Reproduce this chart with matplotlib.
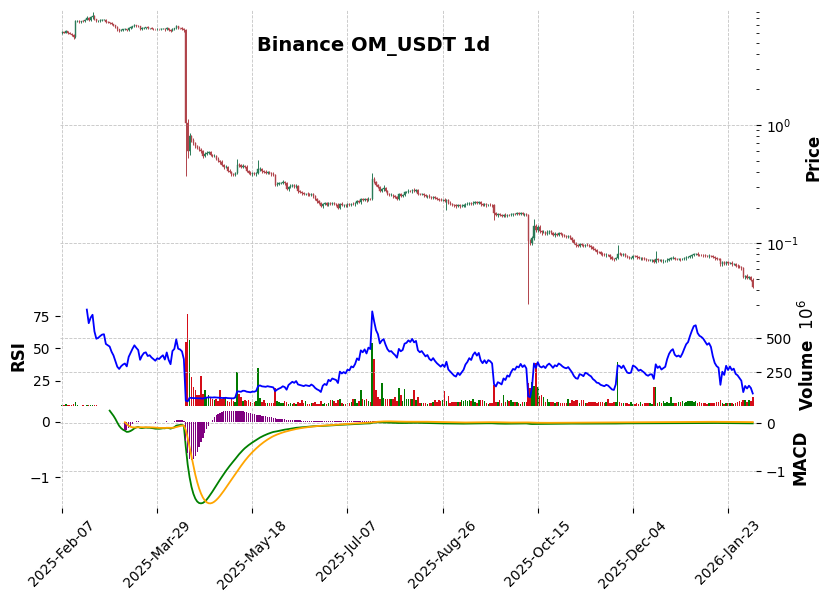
import numpy as np
import pandas as pd
import matplotlib
matplotlib.use("Agg")
import matplotlib.pyplot as plt

# daily closes (OM_USDT, Binance, 1d)
close_feb_apr = [
    6.11, 6.05, 6.20, 6.02, 5.95, 5.82, 5.55, 7.55, 7.62, 7.48,
    7.60, 7.58, 7.80, 8.10, 7.75, 8.15, 8.40, 7.85, 7.55, 7.60,
    7.70, 7.78, 7.80, 7.45, 7.40, 7.35, 7.15, 7.00, 6.75, 6.45,
    6.32, 6.40, 6.45, 6.48, 6.35, 6.62, 6.75, 6.88, 7.00, 6.92,
    6.85, 6.50, 6.62, 6.70, 6.72, 6.60, 6.62, 6.55, 6.50, 6.45,
    6.50, 6.48, 6.52, 6.55, 6.45, 6.58, 6.40, 6.28, 6.55, 6.60,
    6.85, 6.62, 6.60, 6.55, 6.33,
]
close_apr_jul = [
    1.05, 0.60, 0.80, 0.74, 0.70, 0.66, 0.64, 0.62, 0.60, 0.55,
    0.57, 0.58, 0.59, 0.56, 0.545, 0.55, 0.52, 0.50, 0.485, 0.455,
    0.44, 0.445, 0.41, 0.40, 0.385, 0.38, 0.39, 0.46, 0.455, 0.44,
    0.45, 0.445, 0.41, 0.395, 0.385, 0.39, 0.385, 0.39, 0.42, 0.425,
    0.405, 0.40, 0.395, 0.398, 0.39, 0.385, 0.378, 0.312, 0.318, 0.322,
    0.325, 0.33, 0.32, 0.285, 0.30, 0.305, 0.31, 0.30, 0.305, 0.275,
    0.27, 0.265, 0.26, 0.262, 0.258, 0.255, 0.258, 0.25, 0.235, 0.225,
    0.218, 0.205, 0.215, 0.218, 0.212, 0.22, 0.214, 0.218, 0.215, 0.212,
    0.20, 0.216, 0.21, 0.212, 0.208, 0.213, 0.211, 0.216, 0.214, 0.218,
    0.225, 0.222, 0.235, 0.232, 0.236, 0.230, 0.238, 0.236,
]
close_jul_oct = [
    0.35, 0.33, 0.31, 0.30, 0.275, 0.285, 0.29, 0.275, 0.262, 0.255,
    0.256, 0.25, 0.245, 0.238, 0.258, 0.252, 0.255, 0.27, 0.272, 0.278,
    0.275, 0.282, 0.276, 0.279, 0.262, 0.258, 0.26, 0.255, 0.25, 0.252,
    0.245, 0.242, 0.245, 0.24, 0.236, 0.233, 0.23, 0.232, 0.228, 0.233,
    0.22, 0.216, 0.212, 0.208, 0.206, 0.209, 0.205, 0.207, 0.209, 0.213,
    0.215, 0.218, 0.216, 0.22, 0.222, 0.219, 0.221, 0.214, 0.211, 0.213,
    0.21, 0.212, 0.211, 0.209, 0.178, 0.172, 0.175, 0.173, 0.17, 0.174,
    0.171, 0.174, 0.172, 0.175, 0.177, 0.176, 0.178, 0.177, 0.179, 0.176,
    0.177, 0.174,
]
close_oct_feb = [
    0.105, 0.100, 0.110, 0.140, 0.128, 0.137, 0.126, 0.123, 0.125, 0.120,
    0.124, 0.126, 0.122, 0.117, 0.120, 0.118, 0.121, 0.119, 0.116, 0.114,
    0.113, 0.114, 0.110, 0.106, 0.100, 0.096, 0.095, 0.098, 0.097, 0.095,
    0.097, 0.096, 0.094, 0.0925, 0.089, 0.087, 0.084, 0.0835, 0.081, 0.080,
    0.079, 0.0795, 0.0785, 0.076, 0.0735, 0.0728, 0.0745, 0.0815, 0.081, 0.0795,
    0.0805, 0.078, 0.0755, 0.075, 0.0752, 0.0775, 0.077, 0.076, 0.0745, 0.0748,
    0.074, 0.0732, 0.072, 0.0715, 0.0718, 0.0718, 0.0695, 0.0728, 0.0712, 0.0716,
    0.0702, 0.0705, 0.0708, 0.0725, 0.0738, 0.0746, 0.075, 0.0735, 0.073, 0.0732,
    0.0728, 0.0735, 0.0745, 0.0755, 0.076, 0.0775, 0.079, 0.0805, 0.0808, 0.0795,
    0.079, 0.0788, 0.0785, 0.078, 0.0775, 0.0778, 0.0772, 0.0755, 0.074, 0.0732,
    0.0728, 0.066, 0.0685, 0.067, 0.069, 0.0672, 0.068, 0.0665, 0.0668, 0.0645,
    0.0638, 0.0625, 0.061, 0.0515, 0.053, 0.0505, 0.0512, 0.049, 0.0422,
]
first_open = 6.05

# wick sizes in percent of the body end
upper_wick_pct = [
    2, 1, 3, 1, 2, 1, 2, 3, 2, 2,
    1, 2, 2, 3, 2, 2, 9, 2, 1, 2,
    2, 1, 2, 1, 2, 1, 2, 1, 1, 2,
    1, 2, 1, 2, 1, 2, 2, 1, 2, 1,
    2, 1, 2, 1, 1, 2, 1, 2, 1, 1,
    2, 1, 1, 2, 1, 2, 1, 1, 2, 1,
    2, 1, 1, 2, 2,
    2, 7, 6, 3, 4, 3, 2, 4, 3, 2,
    3, 4, 2, 3, 2, 3, 2, 3, 2, 4,
    2, 3, 2, 3, 2, 2, 3, 13, 3, 2,
    3, 2, 3, 2, 3, 2, 3, 2, 21, 3,
    2, 2, 3, 2, 3, 2, 3, 2, 3, 2,
    2, 3, 2, 3, 2, 3, 2, 2, 3, 2,
    2, 3, 2, 2, 3, 2, 3, 2, 2, 3,
    2, 3, 2, 2, 3, 2, 2, 3, 2, 2,
    4, 2, 3, 2, 2, 3, 2, 2, 3, 2,
    2, 3, 2, 3, 2, 2, 3, 2, 11, 3,
    2, 3, 2, 3, 8, 2, 3, 2, 3, 2,
    2, 3, 2, 3, 2, 3, 2, 3, 2, 2,
    3, 2, 3, 2, 2, 3, 2, 2, 3, 2,
    2, 3, 2, 2, 3, 2, 3, 2, 2, 3,
    2, 2, 3, 2, 2, 3, 2, 2, 3, 2,
    2, 3, 2, 2, 3, 2, 2, 3, 2, 2,
    3, 2, 3, 2, 2, 3, 2, 2, 3, 2,
    2, 3, 2, 2, 3, 2, 2, 3, 2, 2,
    1, 3, 4, 14, 4, 3, 4, 2, 3, 2,
    3, 2, 3, 2, 3, 2, 3, 2, 2, 3,
    2, 3, 2, 2, 3, 2, 3, 2, 3, 2,
    2, 3, 2, 3, 2, 2, 3, 2, 2, 3,
    2, 3, 2, 2, 3, 2, 2, 18, 3, 2,
    3, 2, 2, 3, 2, 3, 2, 2, 3, 2,
    2, 3, 2, 2, 3, 2, 2, 18, 3, 2,
    2, 3, 2, 3, 2, 2, 3, 2, 2, 3,
    2, 2, 3, 2, 3, 2, 3, 2, 2, 3,
    2, 2, 3, 2, 2, 3, 2, 2, 3, 2,
    2, 3, 2, 2, 3, 2, 2, 3, 2, 2,
    3, 2, 3, 2, 2, 3, 2, 2, 3,
]
lower_wick_pct = [
    2, 1, 1, 2, 1, 2, 3, 2, 1, 2,
    2, 1, 2, 1, 2, 1, 2, 2, 2, 1,
    1, 2, 1, 2, 1, 2, 1, 2, 1, 2,
    2, 1, 2, 1, 2, 1, 1, 2, 1, 2,
    1, 2, 1, 1, 2, 1, 2, 1, 2, 1,
    1, 2, 1, 1, 2, 1, 2, 3, 1, 2,
    1, 2, 1, 2, 3,
    65, 13, 8, 3, 3, 3, 2, 3, 3, 4,
    2, 3, 2, 3, 2, 2, 3, 2, 3, 2,
    3, 2, 3, 2, 3, 3, 2, 2, 3, 2,
    2, 3, 2, 3, 2, 3, 2, 3, 2, 2,
    3, 2, 2, 3, 2, 3, 2, 3, 2, 3,
    2, 2, 3, 2, 3, 2, 3, 2, 2, 3,
    2, 3, 2, 2, 3, 2, 2, 3, 2, 3,
    2, 2, 3, 2, 2, 3, 2, 2, 3, 2,
    3, 2, 2, 3, 2, 2, 3, 2, 2, 3,
    2, 2, 3, 2, 2, 3, 2, 2, 2, 3,
    2, 3, 2, 2, 3, 2, 3, 2, 2, 3,
    2, 3, 2, 2, 3, 2, 2, 3, 2, 3,
    2, 2, 3, 2, 2, 3, 2, 3, 2, 2,
    3, 2, 2, 3, 2, 2, 3, 16, 2, 3,
    2, 2, 3, 2, 3, 2, 2, 3, 2, 3,
    2, 2, 3, 2, 2, 3, 2, 2, 3, 2,
    2, 3, 12, 2, 3, 2, 3, 2, 2, 3,
    2, 2, 3, 2, 2, 3, 2, 2, 3, 2,
    71, 4, 3, 3, 4, 3, 3, 4, 2, 3,
    2, 3, 2, 2, 3, 2, 3, 2, 3, 2,
    2, 3, 2, 3, 2, 3, 2, 2, 3, 2,
    3, 2, 2, 3, 2, 2, 3, 2, 3, 2,
    2, 3, 2, 3, 2, 3, 2, 2, 3, 2,
    2, 3, 2, 2, 3, 2, 2, 3, 2, 3,
    2, 2, 3, 2, 2, 3, 2, 2, 3, 2,
    2, 3, 2, 2, 3, 2, 2, 3, 2, 2,
    3, 2, 2, 3, 2, 2, 3, 2, 2, 3,
    2, 2, 3, 2, 2, 3, 2, 2, 3, 2,
    2, 4, 3, 2, 2, 3, 2, 3, 2, 2,
    3, 2, 3, 2, 3, 2, 2, 3, 2,
]

# volume in millions of OM
volume_feb_apr = [
    9, 10, 12, 8, 9, 11, 13, 30, 5, 4,
    4, 5, 4, 7, 8, 9, 10, 8, 7, 3,
    2.5, 3, 2.2, 2.8, 3.5, 3, 2.4, 2.6, 3.2, 3,
    2.5, 2.8, 3.1, 2.2, 2.6, 3, 2.4, 2.9, 3.3, 2.7,
    2.5, 3, 2.2, 2.6, 2.8, 3.4, 2.5, 2.3, 2.7, 3,
    2.6, 2.4, 2.2, 2.8, 2.5, 3.1, 2.6, 2.4, 2.9, 3.2,
    2.7, 2.5, 3.6, 3.0, 4.0,
]
volume_apr_jul = [
    470, 675, 485, 213, 140, 118, 80, 80, 220, 87,
    118, 60, 85, 70, 50, 45, 55, 40, 118, 50,
    70, 60, 35, 30, 60, 40, 30, 252, 87, 70,
    40, 45, 40, 45, 30, 25, 30, 35, 280, 60,
    30, 45, 25, 25, 20, 22, 20, 132, 40, 30,
    25, 20, 35, 28, 18, 22, 15, 20, 18, 30,
    20, 44, 22, 40, 18, 15, 20, 25, 30, 15,
    15, 40, 18, 20, 15, 22, 44, 44, 35, 20,
    44, 55, 20, 15, 18, 22, 25, 30, 55, 55,
    25, 35, 118, 50, 45, 50, 40, 30,
]
volume_jul_oct = [
    462, 345, 118, 70, 55, 167, 60, 55, 55, 50,
    55, 50, 66, 40, 130, 80, 40, 125, 55, 55,
    50, 55, 118, 44, 66, 25, 22, 20, 22, 18,
    20, 22, 30, 48, 30, 44, 40, 44, 110, 35,
    73, 25, 30, 30, 28, 30, 32, 44, 40, 44,
    38, 44, 40, 51, 30, 25, 48, 45, 48, 40,
    20, 18, 22, 25, 154, 30, 30, 48, 25, 80,
    30, 44, 40, 44, 30, 28, 30, 20, 18, 30,
    28, 30,
]
volume_oct_feb = [
    167, 130, 177, 150, 318, 140, 75, 80, 70, 30,
    55, 30, 28, 32, 25, 30, 28, 20, 22, 20,
    22, 51, 25, 44, 40, 44, 42, 25, 48, 45,
    20, 22, 30, 32, 28, 30, 25, 30, 32, 28,
    25, 30, 55, 25, 20, 30, 28, 326, 30, 25,
    22, 25, 20, 18, 30, 15, 18, 20, 15, 30,
    18, 22, 20, 22, 20, 18, 142, 140, 25, 30,
    22, 35, 25, 30, 20, 64, 25, 20, 22, 30,
    28, 35, 25, 30, 40, 35, 38, 30, 40, 25,
    30, 22, 20, 25, 18, 20, 22, 25, 20, 28,
    30, 44, 20, 18, 22, 25, 20, 25, 18, 22,
    30, 35, 30, 48, 45, 30, 44, 35, 70,
]

closes = np.array(close_feb_apr + close_apr_jul + close_jul_oct + close_oct_feb)
opens = np.concatenate([[first_open], closes[:-1]])
highs = np.maximum(opens, closes) * (1 + np.array(upper_wick_pct) / 100)
lows = np.minimum(opens, closes) * (1 - np.array(lower_wick_pct) / 100)
volumes = np.array(volume_feb_apr + volume_apr_jul + volume_jul_oct + volume_oct_feb)
dates = pd.date_range("2025-02-07", periods=len(closes), freq="D")

df = pd.DataFrame({"Open": opens, "High": highs, "Low": lows,
                   "Close": closes, "Volume": volumes}, index=dates)

# indicators
delta = df["Close"].diff()
gain = delta.clip(lower=0).ewm(com=13, min_periods=13).mean()
loss = (-delta.clip(upper=0)).ewm(com=13, min_periods=13).mean()
rsi = 100 - 100 / (1 + gain / loss)

exp12 = df["Close"].ewm(span=12, adjust=False).mean()
exp26 = df["Close"].ewm(span=26, adjust=False, min_periods=26).mean()
macd = exp12 - exp26
signal = macd.ewm(span=9, adjust=False, min_periods=9).mean()
hist = macd - signal

W, H = 831, 600
x = np.arange(len(df))
up = df["Close"].values >= df["Open"].values
candle_col = np.where(up, "#2a7b58", "#b0434a")
vol_col = np.where(up, "#007a00", "#d50d18")

fig = plt.figure(figsize=(W / 100, H / 100), dpi=100)
ax_p = fig.add_axes([60 / W, 1 - 305 / H, 696 / W, 295 / H])
ax_v = fig.add_axes([60 / W, 1 - 406 / H, 696 / W, 101 / H], sharex=ax_p)
ax_m = fig.add_axes([60 / W, 1 - 508 / H, 696 / W, 102 / H], sharex=ax_p)
ax_r = ax_v.twinx()
ax_s = ax_m.twinx()

# price panel
ax_p.set_yscale("log")
ax_p.vlines(x, df["Low"], df["High"], colors=candle_col, linewidth=0.7)
ax_p.bar(x, df["Close"] - df["Open"], bottom=df["Open"], width=0.6,
         color=candle_col, edgecolor=candle_col, linewidth=0.3)
ax_p.set_ylim(df["Low"].min() / 1.02, df["High"].max() * 1.03)
ax_p.set_ylabel("Price", fontsize=12, fontweight="bold")

# volume + rsi panel
ax_v.bar(x, df["Volume"], width=0.8, color=vol_col)
ax_v.set_ylim(0.3 * df["Volume"].min(), 1.1 * df["Volume"].max())
ax_v.set_yticks([250, 500])
ax_v.set_ylabel("Volume  $10^{6}$", fontsize=12, fontweight="bold")

ax_r.plot(x, rsi, color="blue", linewidth=1.3)
ax_r.set_yticks([25, 50, 75])
ax_r.set_ylabel("RSI", fontsize=12, fontweight="bold")

# macd panel
ax_m.plot(x, macd, color="green", linewidth=1.3)
ax_m.set_yticks([-1, 0])
ax_m.set_ylabel("MACD", fontsize=12, fontweight="bold")

ok = hist.notna().values
ax_s.bar(x[ok], hist[ok], width=0.7, color="purple")
ax_s.plot(x, signal, color="orange", linewidth=1.3)
ax_s.set_yticks([-1, 0])

# main axes carry their scale on the right, twins on the left
for ax in (ax_p, ax_v, ax_m):
    ax.yaxis.tick_right()
    ax.yaxis.set_label_position("right")
for ax in (ax_r, ax_s):
    ax.yaxis.tick_left()
    ax.yaxis.set_label_position("left")

for ax in (ax_p, ax_v, ax_m, ax_r, ax_s):
    for sp in ax.spines.values():
        sp.set_visible(False)
for ax in (ax_p, ax_v, ax_m):
    ax.grid(True, which="major", linestyle="--", color="#c4c4c4", linewidth=0.6)

tick_pos = list(range(0, len(df), 50))
ax_m.set_xticks(tick_pos)
ax_m.set_xticklabels([dates[i].strftime("%Y-%b-%d") for i in tick_pos], rotation=45)
ax_m.set_xlim(-1.1, 364.7)
ax_p.tick_params(axis="x", bottom=False, labelbottom=False)
ax_v.tick_params(axis="x", bottom=False, labelbottom=False)

fig.text(374 / W, 1 - 46 / H, "Binance OM_USDT 1d", ha="center", va="center",
         fontsize=14, fontweight="bold")

fig.savefig("out.png", dpi=100)
